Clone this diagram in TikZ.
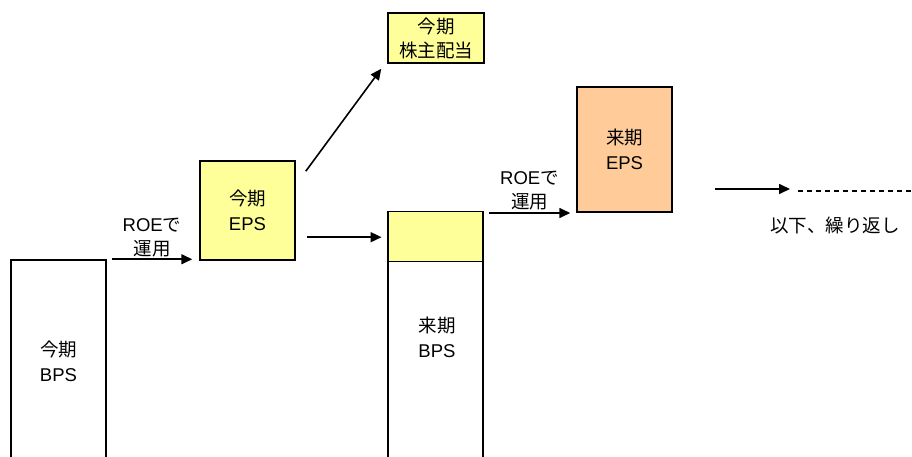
\documentclass[tikz,border=0pt]{standalone}
\usepackage{fontspec}
\setmainfont{Liberation Sans}
\newfontfamily\jp{Noto Sans CJK JP}
\usetikzlibrary{arrows.meta,calc}
\definecolor{lyellow}{HTML}{FFFF99}
\definecolor{lorange}{HTML}{FFCC99}
\begin{document}
\begin{tikzpicture}[x=1pt,y=-1pt,
  every node/.style={font=\fontsize{18.5}{25}\selectfont, align=center, inner sep=0pt},
  box/.style={draw=black, line width=1.5pt, rectangle},
  conn/.style={line width=1.6pt, -{Triangle[length=11pt,width=10pt]}},
  lbl/.style={font=\fontsize{18.5}{24}\selectfont}]
\useasboundingbox (0,0) rectangle (912,457);
\clip (0,0) rectangle (912,457);
% boxes
\node[box, minimum width=95pt, minimum height=210pt, fill=white] (bps1) at (58.5,365) {};
\node (bps1t) at (58.5,361) {{\jp 今期}\\BPS};
\node[box, minimum width=95pt, minimum height=99pt, fill=lyellow] (eps1) at (247.5,210.5) {{\jp 今期}\\EPS};
\node[box, minimum width=96pt, minimum height=50pt, fill=lyellow, font=\fontsize{18.5}{24}\selectfont] (div) at (436,38) {{\jp 今期}\\{\jp 株主配当}};
\node[box, minimum width=95pt, minimum height=260pt, fill=white, anchor=north] (bps2) at (435.5,211) {};
\node[minimum width=93.5pt, minimum height=49pt, fill=lyellow, anchor=north] (bps2top) at (435.5,211.75) {};
\draw[line width=0.8pt] (bps2top.south west) -- (bps2top.south east);
\node (bps2t) at (437,337) {{\jp 来期}\\BPS};
\node[box, minimum width=95pt, minimum height=125pt, fill=lorange] (eps2) at (624.5,149.5) {{\jp 来期}\\EPS};
% connectors
\coordinate (a1) at ($(bps1.north east)+(5,0)$);
\coordinate (a2) at ($(eps1.south west |- a1)+(-7,0)$);
\draw[conn] (a1) -- node[lbl, above=1pt] {ROE{\jp で}\\{\jp 運用}} (a2);
\draw[conn] ([xshift=10pt,yshift=-11pt]eps1.north east) -- ([xshift=-6pt,yshift=-5pt]div.south west);
\coordinate (c1) at ($(eps1.east |- bps2top.west)+(11,0.75)$);
\coordinate (c2) at ($(bps2top.west |- c1)+(-7,0)$);
\draw[conn] (c1) -- (c2);
\coordinate (b1) at ($(bps2.north east)+(5,2)$);
\coordinate (b2) at ($(eps2.south west |- b1)+(-6,0)$);
\draw[conn] (b1) -- node[lbl, above=2pt] {ROE{\jp で}\\{\jp 運用}} (b2);
\coordinate (r1) at (715,189);
\coordinate (r2) at (790,189);
\coordinate (d1) at (798,191);
\coordinate (d2) at (912,191);
\draw[conn] (r1) -- (r2);
\draw[line width=1.2pt, dash pattern=on 5pt off 4pt] (d1) -- (d2);
\node (rep) at (835,225) {\jp 以下、繰り返し};
\end{tikzpicture}
\end{document}
